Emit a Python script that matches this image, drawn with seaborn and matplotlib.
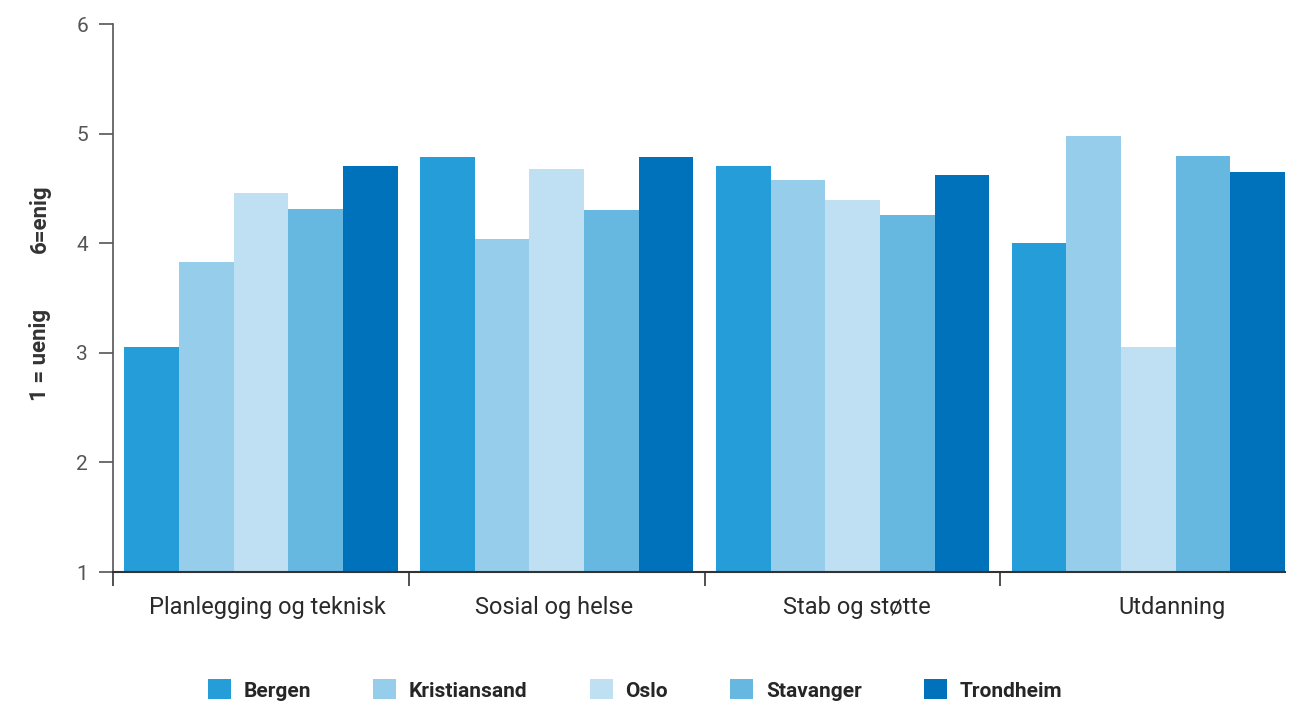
import matplotlib
matplotlib.use("Agg")
import matplotlib.pyplot as plt
import matplotlib.transforms as mtransforms
from matplotlib.patches import Patch
import pandas as pd
import seaborn as sns

# Sectors and cities
sektorer = ["Planlegging og teknisk", "Sosial og helse", "Stab og støtte", "Utdanning"]
byer = ["Bergen", "Kristiansand", "Oslo", "Stavanger", "Trondheim"]

# Mean agreement score (1 = uenig, 6 = enig) per city, in sector order
bergen = [3.05, 4.79, 4.70, 4.00]
kristiansand = [3.83, 4.04, 4.58, 4.98]
oslo = [4.46, 4.68, 4.39, 3.05]
stavanger = [4.31, 4.30, 4.26, 4.80]
trondheim = [4.70, 4.79, 4.62, 4.65]

farger = ["#259DD8", "#96CDEB", "#BEE0F2", "#67B8E1", "#0072BB"]
y_ticks = [1, 2, 3, 4, 5, 6]

serier = {"Bergen": bergen, "Kristiansand": kristiansand, "Oslo": oslo,
          "Stavanger": stavanger, "Trondheim": trondheim}
rows = []
for by in byer:
    for sektor, verdi in zip(sektorer, serier[by]):
        rows.append({"sektor": sektor, "by": by, "score": verdi})
df = pd.DataFrame(rows)

sns.set_style("white")
plt.rcParams["font.family"] = ["Roboto", "DejaVu Sans"]

fig = plt.figure(figsize=(12.9, 7.02), dpi=100)
ax = fig.add_axes([113 / 1290, 1 - 572 / 702, (1285 - 113) / 1290, (572 - 24) / 702])

sns.barplot(data=df, x="sektor", y="score", hue="by", order=sektorer,
            hue_order=byer, palette=farger, width=0.924, gap=0,
            saturation=1, errorbar=None, linewidth=0, ax=ax)

ax.set_ylim(1, 6)
ax.set_xlim(-0.5, 3.462)
ax.set_yticks(y_ticks)
ax.set_yticklabels([str(t) for t in y_ticks], fontsize=15, color="#555555")
ax.tick_params(axis="y", left=True, length=10, width=1.2, color="#555555", pad=8)

# Category labels centred under each group, dividers between groups
ax.set_xticks(range(len(sektorer)))
ax.set_xticklabels(sektorer, fontsize=17, color="#2a2a2a")
ax.tick_params(axis="x", which="major", length=0, pad=17)
ax.set_xticks([-0.5, 0.5, 1.5, 2.5], minor=True)
ax.tick_params(axis="x", which="minor", bottom=True, length=10, width=1.2,
               color="#333333")
offsets = [7, -3, 4, 24]
for lbl, dx in zip(ax.get_xticklabels(), offsets):
    lbl.set_transform(lbl.get_transform() +
                      mtransforms.ScaledTranslation(dx / 100, 0, fig.dpi_scale_trans))

ax.set_xlabel("")
ax.set_ylabel("")
for side in ["top", "right"]:
    ax.spines[side].set_visible(False)
ax.spines["left"].set_color("#555555")
ax.spines["left"].set_linewidth(1.2)
ax.spines["bottom"].set_color("#333333")
ax.spines["bottom"].set_linewidth(1.5)

# Scale description on the left
fig.text(40 / 1290, 1 - 219 / 702, "6=enig", rotation=90, ha="center", va="center",
         fontsize=16, fontweight="bold", color="#333333")
fig.text(40 / 1290, 1 - 355 / 702, "1 = uenig", rotation=90, ha="center", va="center",
         fontsize=16, fontweight="bold", color="#333333")

if ax.get_legend() is not None:
    ax.get_legend().remove()
handles = [Patch(facecolor=c, edgecolor="none") for c in farger]
fig.legend(handles, byer, loc="center", bbox_to_anchor=(635 / 1290, 1 - 690 / 702),
           ncol=5, frameon=False, handlelength=1.1, handleheight=1.1,
           handletextpad=0.6, columnspacing=3.0, borderpad=0.2,
           prop={"size": 15, "weight": "bold"})

fig.savefig("out.png", dpi=100)
